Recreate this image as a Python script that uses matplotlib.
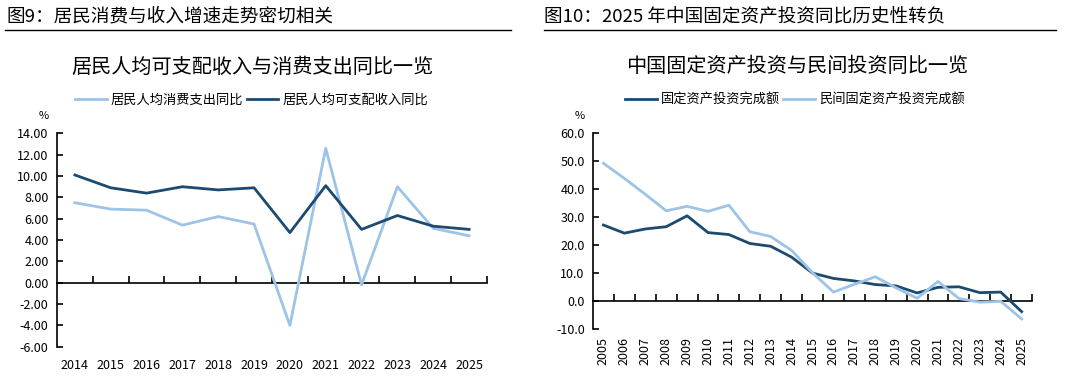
import matplotlib.pyplot as plt
from matplotlib.lines import Line2D

plt.rcParams['font.family'] = ['Noto Sans CJK SC', 'DejaVu Sans']

# 图9 数据
years_l = ['2014', '2015', '2016', '2017', '2018', '2019', '2020', '2021', '2022', '2023', '2024', '2025']
consume = [7.5, 6.9, 6.8, 5.4, 6.2, 5.5, -4.0, 12.6, -0.2, 9.0, 5.1, 4.4]
income = [10.1, 8.9, 8.4, 9.0, 8.7, 8.9, 4.7, 9.1, 5.0, 6.3, 5.3, 5.0]

# 图10 数据
years_r = [str(y) for y in range(2005, 2026)]
fai = [27.2, 24.3, 25.8, 26.6, 30.5, 24.5, 23.8, 20.6, 19.6, 15.7, 10.0,
       8.1, 7.2, 5.9, 5.4, 2.9, 4.9, 5.1, 3.0, 3.2, -3.8]
private = [49.3, 43.9, 38.2, 32.3, 33.9, 32.1, 34.3, 24.8, 23.1, 18.1, 10.1,
           3.2, 6.0, 8.7, 4.7, 1.0, 7.0, 0.9, -0.4, -0.1, -6.4]

DARK = '#1C4A70'
LIGHT = '#9DC3E6'

fig = plt.figure(figsize=(10.71, 3.85), dpi=100)


def style_axes(ax, labels, ylim, yticks, yfmt, rot, xpad, pct_y):
    n = len(labels)
    ax.set_xlim(-0.5, n - 0.5)
    ax.set_ylim(*ylim)
    for s in ['top', 'right', 'bottom']:
        ax.spines[s].set_visible(False)
    ax.spines['left'].set_linewidth(1.2)
    ax.set_yticks(yticks)
    ax.set_yticklabels([yfmt % v for v in yticks], fontsize=9)
    ax.tick_params(axis='y', direction='in', length=4, width=1.2, pad=6)
    ax.set_xticks(range(n))
    ax.set_xticklabels(labels, fontsize=9, rotation=rot)
    ax.tick_params(axis='x', length=0, pad=xpad)
    # 零轴及分类边界刻度
    sec = ax.secondary_xaxis(0, transform=ax.transData)
    sec.spines['bottom'].set_linewidth(1.2)
    sec.set_xticks([i + 0.5 for i in range(n)])
    sec.set_xticklabels([])
    sec.tick_params(direction='in', length=5, width=1.2)
    ax.text(-0.03, pct_y, '%', transform=ax.transAxes, fontsize=8, ha='center', va='center')


legend_kw = dict(loc='center', ncol=2, frameon=False, fontsize=9.5, handlelength=2.4,
                 columnspacing=0.25, handletextpad=0.3)

# ---- 左图 ----
fig.text(0.006, 0.958, '图9：居民消费与收入增速走势密切相关', fontsize=13.4, va='center')
fig.add_artist(Line2D([0.005, 0.477], [0.922, 0.922], color='black', lw=1))
fig.text(0.236, 0.826, '居民人均可支配收入与消费支出同比一览', fontsize=14.5, ha='center', va='center')

ax1 = fig.add_axes([0.0532, 0.0995, 0.4015, 0.554])
ax1.plot(range(len(years_l)), consume, color=LIGHT, lw=2.0, label='居民人均消费支出同比')
ax1.plot(range(len(years_l)), income, color=DARK, lw=2.0, label='居民人均可支配收入同比')
style_axes(ax1, years_l, (-6, 14), list(range(-6, 15, 2)), '%.2f', 0, 9, 1.08)
fig.legend(*ax1.get_legend_handles_labels(), bbox_to_anchor=(0.235, 0.74), **legend_kw)

# ---- 右图 ----
fig.text(0.508, 0.958, '图10：2025 年中国固定资产投资同比历史性转负', fontsize=13.4, va='center')
fig.add_artist(Line2D([0.508, 0.986], [0.922, 0.922], color='black', lw=1))
fig.text(0.744, 0.826, '中国固定资产投资与民间投资同比一览', fontsize=14.5, ha='center', va='center')

ax2 = fig.add_axes([0.5537, 0.1455, 0.41, 0.508])
ax2.plot(range(len(years_r)), fai, color=DARK, lw=2.0, label='固定资产投资完成额')
ax2.plot(range(len(years_r)), private, color=LIGHT, lw=2.0, label='民间固定资产投资完成额')
style_axes(ax2, years_r, (-10, 60), list(range(-10, 61, 10)), '%.1f', 90, 6, 1.087)
fig.legend(*ax2.get_legend_handles_labels(), bbox_to_anchor=(0.742, 0.74), **legend_kw)

fig.savefig('out.png', dpi=100)
